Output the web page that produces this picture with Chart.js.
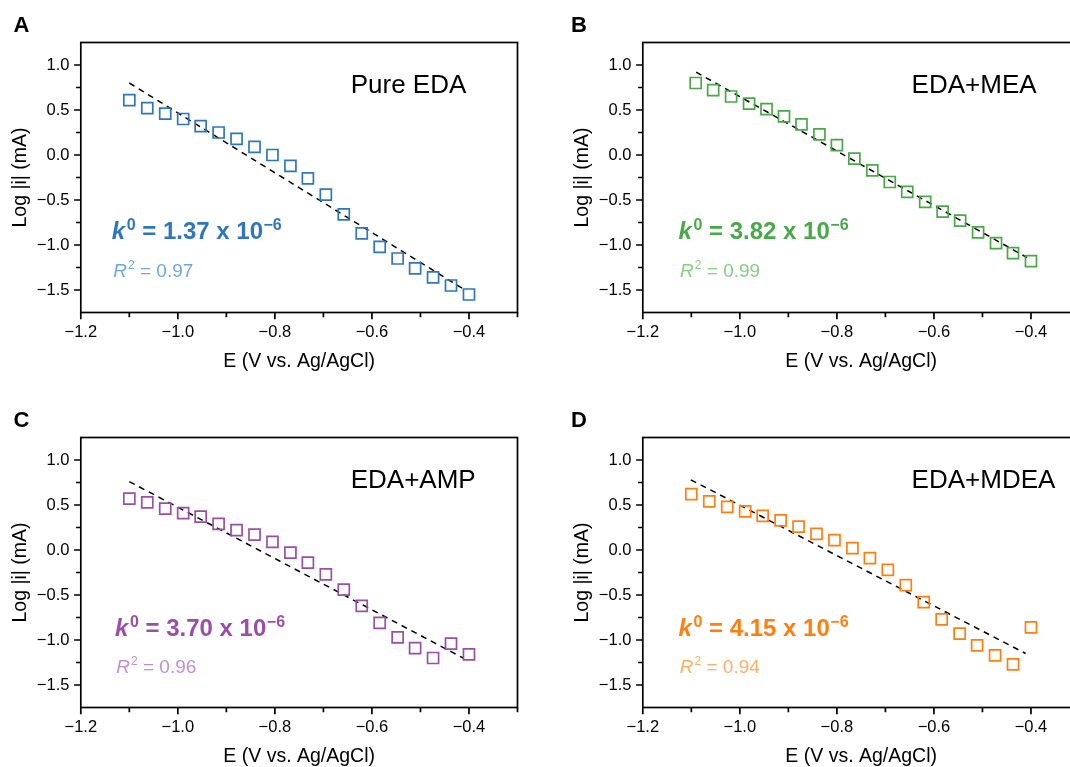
<!DOCTYPE html>
<html>
<head>
<meta charset="utf-8">
<script src="https://cdn.jsdelivr.net/npm/chart.js@4.4.1/dist/chart.umd.min.js"></script>
<style>
    html, body { margin: 0; padding: 0; background: #fff; overflow: hidden; width: 1070px; height: 767px; }
    .panel { position: absolute; width: 535px; height: 384px; }
</style>
</head>
<body>
<div class="panel" style="left:0px;top:0px"><canvas id="chartA" width="535" height="384"></canvas></div>
<div class="panel" style="left:561.7px;top:0px"><canvas id="chartB" width="535" height="384"></canvas></div>
<div class="panel" style="left:0px;top:395px"><canvas id="chartC" width="535" height="384"></canvas></div>
<div class="panel" style="left:561.7px;top:395px"><canvas id="chartD" width="535" height="384"></canvas></div>
<script>
// potentials (V vs. Ag/AgCl)
const potentialACD = [-1.100, -1.063, -1.026, -0.989, -0.953, -0.916, -0.879, -0.842, -0.805, -0.768,
    -0.732, -0.695, -0.658, -0.621, -0.584, -0.547, -0.511, -0.474, -0.437, -0.400];
const potentialB = [-1.091, -1.055, -1.018, -0.981, -0.945, -0.909, -0.873, -0.836, -0.800, -0.764,
    -0.727, -0.691, -0.655, -0.618, -0.582, -0.546, -0.509, -0.472, -0.437, -0.400];

// log |i| (mA)
const logA = [0.61, 0.52, 0.46, 0.40, 0.32, 0.25, 0.18, 0.09, -0.00, -0.12,
    -0.26, -0.44, -0.66, -0.87, -1.02, -1.15, -1.26, -1.36, -1.45, -1.55];
const logB = [0.80, 0.72, 0.65, 0.57, 0.51, 0.43, 0.34, 0.23, 0.11, -0.04,
    -0.17, -0.30, -0.41, -0.52, -0.63, -0.73, -0.86, -0.98, -1.09, -1.18];
const logC = [0.57, 0.53, 0.46, 0.41, 0.37, 0.29, 0.22, 0.17, 0.09, -0.03,
    -0.14, -0.27, -0.44, -0.62, -0.81, -0.97, -1.09, -1.20, -1.04, -1.16];
const logD = [0.62, 0.54, 0.48, 0.43, 0.38, 0.33, 0.26, 0.18, 0.11, 0.02,
    -0.09, -0.22, -0.39, -0.58, -0.77, -0.93, -1.06, -1.17, -1.27, -0.86];

// linear fits, [E, log i] at both ends
const fitA = [[-1.100, 0.80], [-0.405, -1.51]];
const fitB = [[-1.090, 0.92], [-0.408, -1.14]];
const fitC = [[-1.100, 0.76], [-0.412, -1.20]];
const fitD = [[-1.101, 0.78], [-0.411, -1.15]];

const kValues = ["1.37", "3.82", "3.70", "4.15"];
const r2Values = ["0.97", "0.99", "0.96", "0.94"];
const names = ["Pure EDA", "EDA+MEA", "EDA+AMP", "EDA+MDEA"];
const letters = ["A", "B", "C", "D"];

const xTicks = [-1.2, -1.0, -0.8, -0.6, -0.4];
const xMinor = [-1.1, -0.9, -0.7, -0.5, -0.3];
const yTicks = [1.0, 0.5, 0.0, -0.5, -1.0, -1.5];
const yMinor = [0.75, 0.25, -0.25, -0.75, -1.25];

const FONT = '"Liberation Sans", Arial, Helvetica, sans-serif';

const fmt = (v) => (v < -1e-9 ? "\u2212" : "") + Math.abs(v).toFixed(1);

const drawRuns = (ctx, x, base, runs, color) => {
    ctx.fillStyle = color;
    ctx.textBaseline = "alphabetic";
    ctx.textAlign = "left";
    let cx = x;
    runs.forEach((r) => {
        cx += r.pre || 0;
        ctx.font = r.font + " " + FONT;
        ctx.fillText(r.text, cx, base + (r.dy || 0));
        cx += ctx.measureText(r.text).width;
    });
};

const framePlugin = {
    id: "frame",
    afterDraw(chart, args, o) {
        const { ctx, chartArea: a, scales: { x, y } } = chart;
        ctx.save();
        ctx.strokeStyle = "#000";
        ctx.lineWidth = 1.7;
        ctx.beginPath();
        xTicks.forEach((v) => { const p = x.getPixelForValue(v); ctx.moveTo(p, a.bottom); ctx.lineTo(p, a.bottom + 6.7); });
        xMinor.forEach((v) => { const p = x.getPixelForValue(v); ctx.moveTo(p, a.bottom); ctx.lineTo(p, a.bottom + 4.7); });
        yTicks.forEach((v) => { const p = y.getPixelForValue(v); ctx.moveTo(a.left, p); ctx.lineTo(a.left - 6.7, p); });
        yMinor.forEach((v) => { const p = y.getPixelForValue(v); ctx.moveTo(a.left, p); ctx.lineTo(a.left - 4.7, p); });
        ctx.stroke();
        ctx.strokeRect(a.left, a.top, a.right - a.left, a.bottom - a.top);

        // panel letter
        ctx.fillStyle = "#000";
        ctx.font = "bold 22px " + FONT;
        ctx.textBaseline = "alphabetic";
        ctx.fillText(o.letter, o.letterX, 32.3);

        // sample name
        drawRuns(ctx, a.left + o.nameLeft, a.top + 50.2, [{ text: o.name, font: "26px" }], "#000");

        // rate constant
        drawRuns(ctx, a.left + o.kLeft, a.top + o.kBase, [
            { text: "k", font: "italic bold 24px" },
            { text: "0", font: "bold 16px", dy: -8.5, pre: 1.5 },
            { text: " = " + o.k + " x 10", font: "bold 24px" },
            { text: "\u22126", font: "bold 16px", dy: -8.5, pre: 0.5 },
        ], o.color);

        drawRuns(ctx, a.left + o.rLeft, a.top + o.rBase, [
            { text: "R", font: "italic 19px" },
            { text: "2", font: "12px", dy: -8, pre: 1 },
            { text: " = " + o.r2, font: "19px" },
        ], o.light);
        ctx.restore();
    },
};

const makeChart = (id, i, potential, logI, fit, color, light, pos) => {
    new Chart(document.getElementById(id).getContext("2d"), {
        type: "scatter",
        data: {
            datasets: [
                {
                    data: potential.map((e, j) => ({ x: e, y: logI[j] })),
                    pointStyle: "rect",
                    pointRadius: 7.8,
                    pointHoverRadius: 7.8,
                    pointBorderWidth: 1.7,
                    borderColor: color,
                    pointBorderColor: color,
                    backgroundColor: "rgba(0,0,0,0)",
                    pointBackgroundColor: "rgba(0,0,0,0)",
                    showLine: false,
                },
                {
                    data: fit.map((p) => ({ x: p[0], y: p[1] })),
                    showLine: true,
                    borderColor: "#000",
                    borderWidth: 1.5,
                    borderDash: [6, 5],
                    pointRadius: 0,
                    fill: false,
                },
            ],
        },
        options: {
            responsive: false,
            animation: false,
            events: [],
            layout: { padding: { left: 0, right: 17.5, top: 42.5, bottom: 0 } },
            plugins: {
                legend: { display: false },
                tooltip: { enabled: false },
                frame: {
                    letter: letters[i],
                    letterX: pos.letterX,
                    name: names[i],
                    nameLeft: pos.nameLeft,
                    k: kValues[i],
                    kLeft: pos.kLeft,
                    kBase: pos.kBase,
                    r2: r2Values[i],
                    rLeft: pos.rLeft,
                    rBase: pos.rBase,
                    color: color,
                    light: light,
                },
            },
            scales: {
                x: {
                    type: "linear",
                    min: -1.2,
                    max: -0.3,
                    afterFit: (s) => { s.height = 71.5; },
                    afterBuildTicks: (s) => { s.ticks = xTicks.map((v) => ({ value: v })); },
                    ticks: {
                        callback: fmt,
                        color: "#000",
                        font: { family: FONT, size: 16.5 },
                        padding: 10,
                        maxRotation: 0,
                        autoSkip: false,
                    },
                    grid: { display: false, drawTicks: false },
                    border: { display: false },
                    title: {
                        display: true,
                        text: "E (V vs. Ag/AgCl)",
                        color: "#000",
                        font: { family: FONT, size: 19.5 },
                        padding: { top: 0, bottom: 10.3 },
                    },
                },
                y: {
                    type: "linear",
                    min: -1.75,
                    max: 1.25,
                    afterFit: (s) => { s.width = 80.8; },
                    afterBuildTicks: (s) => { s.ticks = yTicks.map((v) => ({ value: v })); },
                    ticks: {
                        callback: fmt,
                        color: "#000",
                        font: { family: FONT, size: 16.5 },
                        padding: 11.4,
                        autoSkip: false,
                    },
                    grid: { display: false, drawTicks: false },
                    border: { display: false },
                    title: {
                        display: true,
                        text: "Log |i| (mA)",
                        color: "#000",
                        font: { family: FONT, size: 19.5 },
                        padding: { top: 8.8, bottom: 0 },
                    },
                },
            },
        },
        plugins: [framePlugin],
    });
};

makeChart("chartA", 0, potentialACD, logA, fitA, "#2f77bd", "#6fa7dc",
    { letterX: 13.6, nameLeft: 269.9, kLeft: 31, kBase: 196, rLeft: 32.5, rBase: 234 });
makeChart("chartB", 1, potentialB, logB, fitB, "#47a947", "#84cf84",
    { letterX: 9.1, nameLeft: 268.8, kLeft: 35.8, kBase: 196, rLeft: 37.3, rBase: 234 });
makeChart("chartC", 2, potentialACD, logC, fitC, "#9a4ea6", "#c290cf",
    { letterX: 13.6, nameLeft: 269.9, kLeft: 34.3, kBase: 198, rLeft: 35.5, rBase: 235.5 });
makeChart("chartD", 3, potentialACD, logD, fitD, "#ff7f0e", "#ffae62",
    { letterX: 9.1, nameLeft: 268.8, kLeft: 35.8, kBase: 198, rLeft: 37, rBase: 235.5 });
</script>
</body>
</html>
